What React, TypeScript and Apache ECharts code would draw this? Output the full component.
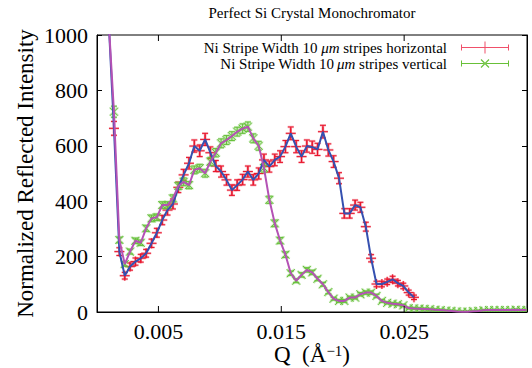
import React, { useEffect, useRef } from 'react';
import * as echarts from 'echarts';

// Q values (Å^-1), shared by both scans
const qValues = [
  0.00095, 0.00138, 0.00182, 0.00226, 0.00269, 0.00313, 0.00356, 0.00400, 0.00444, 0.00487,
  0.00531, 0.00574, 0.00618, 0.00662, 0.00705, 0.00749, 0.00792, 0.00836, 0.00880, 0.00923,
  0.00967, 0.01010, 0.01054, 0.01098, 0.01141, 0.01185, 0.01228, 0.01272, 0.01316, 0.01359,
  0.01403, 0.01447, 0.01490, 0.01534, 0.01577, 0.01621, 0.01665, 0.01708, 0.01752, 0.01795,
  0.01839, 0.01883, 0.01926, 0.01970, 0.02013, 0.02057, 0.02101, 0.02144, 0.02188, 0.02231,
  0.02275, 0.02319, 0.02362, 0.02406, 0.02449, 0.02493, 0.02537, 0.02580, 0.02624, 0.02667,
  0.02711, 0.02755, 0.02798, 0.02842, 0.02885, 0.02929, 0.02973, 0.03016, 0.03060, 0.03103,
  0.03147, 0.03191, 0.03234, 0.03278, 0.03321, 0.03365, 0.03409, 0.03452, 0.03496,
];

const horizontalIntensity = [
  1050, 663, 218, 131, 164, 182, 194, 212, 248, 286,
  332, 368, 390, 450, 495, 537, 599, 582, 623, 575,
  527, 507, 477, 440, 458, 478, 507, 477, 500, 549,
  525, 549, 561, 597, 645, 597, 561, 599, 595, 587,
  651, 585, 543, 483, 356, 356, 386, 378, 308, 194,
  101, 101, 109, 118, 104, 94, 70, 53,
];
const horizontalError = [
  30, 25, 14, 12, 13, 13, 14, 14, 15, 16,
  17, 18, 18, 19, 20, 21, 22, 21, 22, 21,
  20, 20, 19, 19, 19, 19, 20, 19, 20, 21,
  20, 21, 21, 22, 23, 22, 21, 22, 22, 22,
  23, 22, 21, 20, 17, 17, 18, 18, 16, 13,
  10, 10, 10, 11, 10, 10, 9, 8,
];

const verticalIntensity = [
  1050, 723, 260, 173, 218, 257, 250, 302, 338, 342,
  386, 386, 410, 455, 470, 458, 513, 519, 501, 543,
  575, 609, 621, 635, 651, 662, 669, 627, 600, 520,
  405, 320, 258, 207, 140, 113, 134, 152, 143, 120,
  100, 72, 48, 40, 40, 52, 52, 64, 70, 70,
  58, 40, 33, 30, 28, 24, 14, 13, 12, 11,
  10, 8, 7, 5, 4, 2, 1, 1, 3, 4,
  6, 7, 7, 7, 7, 7, 8, 7, 7,
];
const verticalError = [
  30, 20, 10, 8, 9, 10, 10, 11, 12, 12,
  12, 12, 13, 13, 14, 13, 14, 14, 14, 15,
  15, 16, 16, 16, 16, 17, 17, 16, 16, 15,
  13, 12, 11, 10, 8, 7, 8, 8, 8, 7,
  7, 6, 5, 5, 5, 5, 5, 6, 6, 6,
  6, 5, 4, 4, 4, 4, 3, 3, 3, 3,
  3, 3, 3, 2, 2, 2, 2, 2, 2, 2,
  2, 2, 2, 2, 2, 2, 2, 2, 2,
];

const xTickValues = [0.005, 0.015, 0.025];
const seriesNames = [
  'Ni Stripe Width 10 μm stripes horizontal',
  'Ni Stripe Width 10\u2009μm stripes vertical',
];
const titleText = 'Perfect Si Crystal Monochromator';

const FONT = '"Liberation Serif", "Times New Roman", serif';

function errorRender(kind: 'plus' | 'cross', strong: string, halo: string) {
  return (params: any, api: any) => {
    const q = api.value(0);
    const v = api.value(1);
    const e = api.value(2);
    const c = api.coord([q, v]);
    const t = api.coord([q, v + e]);
    const b = api.coord([q, v - e]);
    const cap = 3;
    const m = kind === 'plus' ? 5 : 4;
    const segs: number[][] = [
      [c[0], t[1], c[0], b[1]],
      [c[0] - cap, t[1], c[0] + cap, t[1]],
      [c[0] - cap, b[1], c[0] + cap, b[1]],
    ];
    if (kind === 'plus') {
      segs.push([c[0] - m, c[1], c[0] + m, c[1]]);
      segs.push([c[0], c[1] - m, c[0], c[1] + m]);
    } else {
      segs.push([c[0] - m, c[1] - m, c[0] + m, c[1] + m]);
      segs.push([c[0] - m, c[1] + m, c[0] + m, c[1] - m]);
    }
    const children: any[] = [];
    segs.forEach((s) =>
      children.push({
        type: 'line',
        shape: { x1: s[0], y1: s[1], x2: s[2], y2: s[3] },
        style: { stroke: halo, lineWidth: 2.5 },
      })
    );
    segs.forEach((s) =>
      children.push({
        type: 'line',
        shape: { x1: s[0], y1: s[1], x2: s[2], y2: s[3] },
        style: { stroke: strong, lineWidth: 1 },
      })
    );
    return { type: 'group', children };
  };
}

const plusIcon =
  'path://M0,5.5H48V6.5H0Z M0,3H1V9H0Z M47,3H48V9H47Z M23.5,0H24.5V12H23.5Z';
const crossIcon =
  'path://M0,5.5H48V6.5H0Z M0,3H1V9H0Z M47,3H48V9H47Z M24,0H24.01V12H24Z M19.6,2.4L20.4,1.6L28.4,9.6L27.6,10.4Z M19.6,9.6L20.4,10.4L28.4,2.4L27.6,1.6Z';

export default function App() {
  const ref = useRef<HTMLDivElement>(null);

  useEffect(() => {
    if (!ref.current) return;
    const chart = echarts.init(ref.current, undefined, { renderer: 'svg' });

    const hData = horizontalIntensity.map((v, i) => [qValues[i], v, horizontalError[i]]);
    const vData = verticalIntensity.map((v, i) => [qValues[i], v, verticalError[i]]);

    chart.setOption({
      animation: false,
      backgroundColor: '#fff',
      title: {
        text: titleText,
        left: 312,
        top: 5,
        textAlign: 'center',
        padding: 0,
        textStyle: { fontFamily: FONT, fontSize: 15, fontWeight: 'normal', color: '#000' },
      },
      legend: {
        data: [
          { name: seriesNames[0], icon: plusIcon },
          { name: seriesNames[1], icon: crossIcon },
        ],
        orient: 'vertical',
        right: 23,
        top: 40,
        align: 'right',
        itemWidth: 48,
        itemHeight: 12,
        itemGap: 1,
        padding: 0,
        symbolKeepAspect: false,
        formatter: (name: string) => name.replace('μm', '{i|μm}'),
        textStyle: {
          fontFamily: FONT,
          fontSize: 15,
          lineHeight: 15,
          color: '#000',
          padding: [0, 9, 0, 0],
          rich: { i: { fontFamily: FONT, fontSize: 15, fontStyle: 'italic', color: '#000' } },
        },
      },
      grid: {
        left: 97,
        right: 5,
        top: 35,
        bottom: 56,
        show: true,
        borderColor: '#000',
        borderWidth: 1,
        outerBoundsMode: 'none',
      },
      xAxis: {
        type: 'value',
        min: 0,
        max: 0.035,
        interval: 0.005,
        splitLine: { show: false },
        axisLine: { show: true, lineStyle: { color: '#000', width: 1 } },
        axisTick: { show: false },
        axisLabel: {
          fontFamily: FONT,
          fontSize: 22,
          color: '#000',
          margin: 8,
          formatter: (v: number) => {
            const t = xTickValues.find((x) => Math.abs(x - v) < 1e-9);
            return t === undefined ? '' : t.toFixed(3);
          },
        },
        name: 'Q  (Å{sup|−1})',
        nameLocation: 'middle',
        nameGap: 31,
        nameMoveOverlap: false,
        nameTextStyle: {
          fontFamily: FONT,
          fontSize: 23,
          color: '#000',
          lineHeight: 22,
          rich: {
            sup: { fontFamily: FONT, fontSize: 15, color: '#000', verticalAlign: 'top', lineHeight: 14 },
          },
        },
      },
      yAxis: [
        {
          type: 'value',
          min: 0,
          max: 1000,
          interval: 200,
          splitLine: { show: false },
          axisLine: { show: true, lineStyle: { color: '#000', width: 1 } },
          axisTick: { show: true, inside: true, length: 5, lineStyle: { color: '#000' } },
          axisLabel: {
            fontFamily: FONT,
            fontSize: 22,
            color: '#000',
            margin: 9,
            formatter: (v: number) => String(v),
          },
          name: 'Normalized Reflected Intensity',
          nameLocation: 'middle',
          nameGap: 60,
          nameMoveOverlap: false,
          nameTextStyle: { fontFamily: FONT, fontSize: 23, color: '#000' },
        },
        {
          type: 'value',
          position: 'right',
          min: 0,
          max: 1000,
          interval: 200,
          splitLine: { show: false },
          axisLine: { show: true, lineStyle: { color: '#000', width: 1 } },
          axisTick: { show: true, inside: true, length: 5, lineStyle: { color: '#000' } },
          axisLabel: { show: false },
        },
      ],
      series: [
        {
          name: seriesNames[0],
          type: 'custom',
          data: hData,
          encode: { x: 0, y: 1 },
          clip: true,
          itemStyle: { color: '#f0506a' },
          renderItem: errorRender('plus', '#e8142a', 'rgba(240,90,110,0.4)'),
          z: 2,
        },
        {
          name: seriesNames[1],
          type: 'custom',
          data: vData,
          encode: { x: 0, y: 1 },
          clip: true,
          itemStyle: { color: '#68c038' },
          renderItem: errorRender('cross', '#66c03a', 'rgba(120,200,80,0.35)'),
          z: 2,
        },
        {
          name: 'horizontal line',
          type: 'line',
          data: hData.map((d) => [d[0], d[1]]),
          symbol: 'none',
          showSymbol: false,
          clip: true,
          lineStyle: { color: '#3550b0', width: 2 },
          z: 3,
        },
        {
          name: 'vertical line',
          type: 'line',
          data: vData.map((d) => [d[0], d[1]]),
          symbol: 'none',
          showSymbol: false,
          clip: true,
          lineStyle: { color: '#b452b4', width: 2 },
          z: 3,
        },
        {
          name: 'x ticks',
          type: 'custom',
          data: xTickValues.map((v) => [v, 0]),
          encode: { x: 0, y: 1 },
          clip: false,
          silent: true,
          renderItem: (params: any, api: any) => {
            const p = api.coord([api.value(0), 0]);
            const cs = params.coordSys;
            const x = p[0];
            return {
              type: 'group',
              children: [
                { type: 'line', shape: { x1: x, y1: cs.y + cs.height, x2: x, y2: cs.y + cs.height - 6 }, style: { stroke: '#000', lineWidth: 1 } },
                { type: 'line', shape: { x1: x, y1: cs.y, x2: x, y2: cs.y + 6 }, style: { stroke: '#000', lineWidth: 1 } },
              ],
            };
          },
          z: 4,
        },
      ],
    });

    return () => chart.dispose();
  }, []);

  return (
    <div
      ref={ref}
      style={{ position: 'absolute', left: 0, top: 0, width: 532, height: 368, background: '#fff' }}
    />
  );
}
